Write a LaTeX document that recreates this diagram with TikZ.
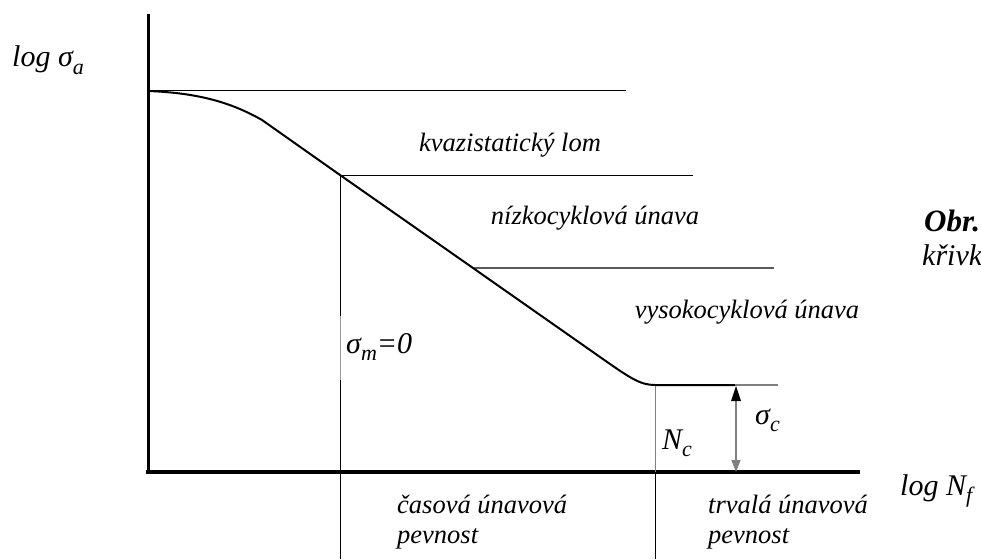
\documentclass[tikz,border=0pt]{standalone}
\usepackage{fontspec}
\setmainfont{Liberation Serif}
\usepackage{tikz}
\usetikzlibrary{arrows.meta, positioning, calc}
\definecolor{wohlgray}{HTML}{808080}
\newcommand{\lowidx}[1]{\raisebox{-0.25em}{\fontsize{22}{22}\selectfont #1}}

\begin{document}
\begin{tikzpicture}[x=1pt, y=-1pt, >=Triangle,
    lbl/.style={font=\fontsize{26.5}{30}\selectfont\itshape, inner sep=0pt},
    axlbl/.style={font=\fontsize{30}{32}\selectfont\itshape, inner sep=0pt},
    thinline/.style={line width=1pt},
    curveline/.style={line width=2pt}]
  \clip (0,0) rectangle (981,559);
  % points of the curve
  \coordinate (top) at (148,91);
  \coordinate (kvaz) at (340,175);
  \coordinate (nizk) at (473,268);
  \coordinate (knee) at (655,385);
  \coordinate (endc) at (735,385);
  % axes
  \draw[line width=3pt] (148,14) -- (148,473);
  \draw[line width=3.5pt] (146,472) -- (860,472);
  % region borders
  \draw[thinline] (top) -- (626,91);
  \draw[thinline] (kvaz) -- (693,175);
  \draw[line width=1.3pt, black!65] (nizk) -- (774,268);
  \draw[thinline] (kvaz) -- (340,316);
  \draw[thinline, black!40] (340,316) -- (340,380);
  \draw[thinline] (340,380) -- (340,559);
  \draw[thinline, wohlgray] (knee) -- (655,472);
  \draw[thinline] (655,472) -- (655,559);
  % the fatigue curve
  \draw[curveline] (top) .. controls (200,93) and (232,103) .. (262,120)
    -- (kvaz) -- (nizk) -- (600,357)
    .. controls (630,378) and (640,385) .. (knee) -- (endc);
  \draw[line width=1.5pt, wohlgray] (endc) -- (778,385);
  % amplitude of the fatigue limit
  \draw[line width=1.2pt, wohlgray, -{Triangle[length=12pt, width=9pt]}] (736,430) -- (736,472);
  \draw[line width=1.2pt, wohlgray] (736,430) -- (736,398);
  \fill (736,386) -- (731,401) -- (741,401) -- cycle;
  % labels
  \node[axlbl, anchor=base west] (lsig) at (12,67) {log σ\lowidx{a}};
  \node[axlbl, anchor=base west] (lnf) at (900,495) {log N\lowidx{f}};
  \node[lbl] (lkvaz) at (510,145) {kvazistatický lom};
  \node[lbl] (lnizk) at (595,218) {nízkocyklová únava};
  \node[lbl] (lvys) at (747,312) {vysokocyklová únava};
  \node[axlbl, anchor=base west] (lsm) at (346,353) {σ\lowidx{m}=0};
  \node[axlbl, anchor=base west] (lnc) at (662,449) {N\lowidx{c}};
  \node[axlbl, anchor=base west] (lsc) at (755,424) {σ\lowidx{c}};
  \node[lbl, anchor=west, align=left] (lcas) at (397,522) {časová únavová\\pevnost};
  \node[lbl, anchor=west, align=left] (ltrv) at (708,522) {trvalá únavová\\pevnost};
  \node[axlbl, font=\fontsize{31}{33}\selectfont\bfseries\itshape, anchor=base west] (lobr) at (924,231) {Obr.};
  \node[axlbl, anchor=base west] (lkriv) at (922,265) {křivk};
\end{tikzpicture}
\end{document}
